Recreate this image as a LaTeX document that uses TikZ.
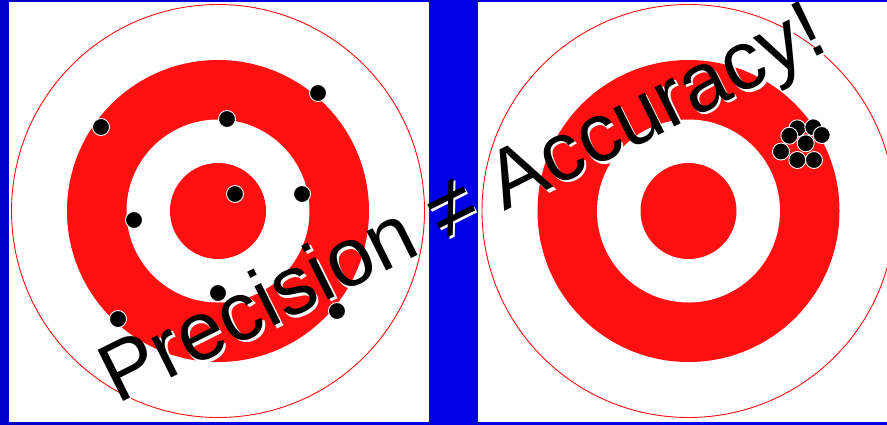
\documentclass[tikz,border=0pt]{standalone}
\usepackage{fontspec}
\setmainfont{Liberation Sans}
\definecolor{targetred}{RGB}{255,16,16}
\definecolor{deepblue}{RGB}{0,0,200}
\definecolor{brightblue}{RGB}{0,0,255}
\begin{document}
\begin{tikzpicture}[x=1pt,y=-1pt,
  panel/.style={fill=white},
  outerline/.style={draw=targetred, line width=0.9pt},
  band/.style={fill=targetred},
  hole/.style={fill=white},
  shot/.style={circle, fill=black, draw=white, line width=0.9pt,
               minimum size=17pt, inner sep=0pt},
  slogan/.style={font=\fontsize{83}{90}\selectfont, inner sep=0pt,
                 anchor=base west, rotate=26.5}]
\useasboundingbox (0,0) rectangle (887,424);

% blue backdrop, brighter towards the upper right
\shade[left color=deepblue, right color=brightblue, middle color=brightblue]
  (0,0) rectangle (887,424);
\shade[top color=brightblue!0!deepblue, bottom color=deepblue, opacity=0.4]
  (0,0) rectangle (887,424);

% two white panels
\fill[panel] (9,2) rectangle (429,422);
\fill[panel] (478,2) rectangle (887,422);

% left target
\begin{scope}
  \clip (9,2) rectangle (429,422);
  \coordinate (lc) at (218,211);
  \draw[outerline] (lc) circle (206.5);
  \fill[band] (lc) circle (151);
  \fill[hole] (lc) circle (91.5);
  \fill[band] (lc) circle (48);
\end{scope}

% right target
\begin{scope}
  \clip (478,2) rectangle (887,422);
  \coordinate (rc) at (688.5,211);
  \draw[outerline] (rc) circle (206.5);
  \fill[band] (rc) circle (151);
  \fill[hole] (rc) circle (91.5);
  \fill[band] (rc) circle (48);
\end{scope}

% scattered shots on the left target
\node[shot] (l1) at (101,127) {};
\node[shot] (l2) at (227,119) {};
\node[shot] (l3) at (318,93) {};
\node[shot] (l4) at (235,194) {};
\node[shot] (l5) at (302,194) {};
\node[shot] (l6) at (134,220) {};
\node[shot] (l7) at (218,293) {};
\node[shot] (l8) at (118,319) {};
\node[shot] (l9) at (337,311) {};

% tight cluster on the right target
\node[shot] (r1) at (797.3,128.3) {};
\node[shot] (r2) at (813.3,127.3) {};
\node[shot] (r3) at (789.3,135.7) {};
\node[shot] (r4) at (821.7,135) {};
\node[shot] (r5) at (805.7,143.3) {};
\node[shot] (r6) at (781,151.5) {};
\node[shot] (r7) at (797.3,160) {};
\node[shot] (r8) at (814,160) {};

% slogan with a white drop shadow
\node[slogan, text=white] (sloganshadow) at (119.5,407.5) {Precision ≠ Accuracy!};
\node[slogan, text=black] (slogan) at (117,405) {Precision ≠ Accuracy!};
\end{tikzpicture}
\end{document}
